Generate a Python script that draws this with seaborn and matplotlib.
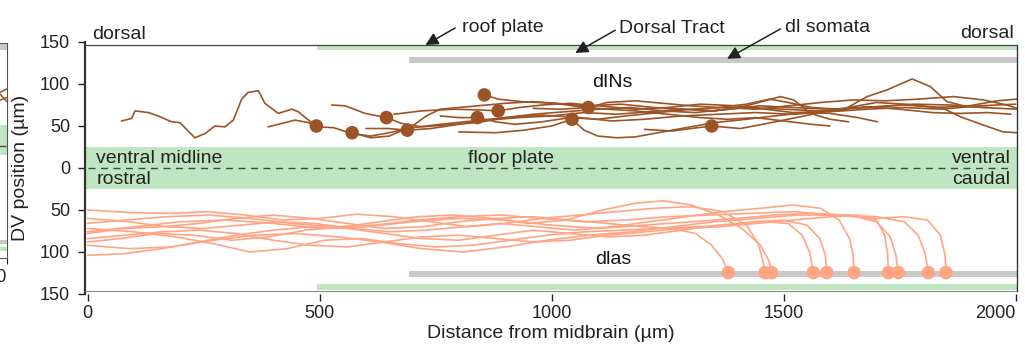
import matplotlib
matplotlib.use("Agg")
import matplotlib.pyplot as plt
import numpy as np
import pandas as pd
import seaborn as sns

# ---------------- data ----------------
x_ticks = [0, 500, 1000, 1500, 2000]
y_ticks = [-150, -100, -50, 0, 50, 100, 150]
y_tick_labels = ["150", "100", "50", "0", "50", "100", "150"]

# landmark bands (x0, x1, y0, y1) in µm
floor_plate = (-5, 2003, -25, 25)
roof_plate_top = (495, 2003, 140, 146)
roof_plate_bottom = (495, 2003, -145, -138)
dl_tract_top = (693, 2003, 125, 132)
dl_tract_bottom = (693, 2003, -130, -123)

# dIN somata
din_soma_x = [493, 570, 644, 689, 840, 855, 885, 1044, 1079, 1345]
din_soma_y = [50, 42, 60, 45, 60, 87, 68, 58, 72, 50]

# dIN axon traces
din1_x = [73, 95, 102, 131, 152, 181, 199, 231, 253, 274, 296, 314, 332, 346, 368, 382, 411, 440, 454, 476, 494]
din1_y = [56, 59, 68, 66, 62, 55, 54, 36, 41, 50, 49, 57, 82, 90, 92, 77, 65, 70, 67, 57, 49]
din2_x = [389, 447, 476, 494, 530, 570, 610, 650, 700, 760, 830, 900, 980, 1060, 1130, 1200, 1280, 1360, 1440, 1520, 1600, 1680, 1760, 1840, 1920, 2000]
din2_y = [49, 57, 54, 49, 48, 41, 38, 42, 48, 52, 56, 60, 63, 60, 56, 58, 62, 64, 66, 64, 67, 70, 72, 70, 74, 76]
din3_x = [570, 610, 650, 700, 730, 760, 820, 900, 960, 1010, 1080, 1150, 1220, 1290, 1350, 1420, 1493, 1522, 1558, 1600, 1640]
din3_y = [42, 36, 38, 50, 62, 70, 73, 77, 79, 77, 74, 76, 72, 70, 68, 74, 85, 81, 65, 58, 55]
din4_x = [526, 555, 598, 644, 677, 720, 792, 863, 930, 1000, 1070, 1140, 1210, 1280, 1350, 1420, 1500, 1570, 1628, 1680, 1723, 1777, 1816, 1852, 1895, 1940]
din4_y = [75, 74, 65, 60, 53, 49, 52, 57, 60, 62, 66, 64, 67, 70, 68, 72, 70, 68, 69, 85, 93, 106, 97, 79, 73, 72]
din5_x = [600, 648, 689, 740, 800, 850, 900, 960, 1030, 1100, 1170, 1240, 1310, 1380, 1450, 1520, 1600, 1680, 1760, 1840, 1881, 1931, 1973, 2003]
din5_y = [47, 47, 45, 47, 52, 55, 60, 64, 67, 70, 72, 68, 66, 70, 74, 72, 70, 72, 75, 72, 61, 51, 43, 42]
din6_x = [760, 800, 840, 880, 920, 980, 1040, 1100, 1160, 1230, 1300, 1370, 1440, 1510, 1580, 1650, 1720, 1790, 1866, 1931, 1981, 2003]
din6_y = [62, 60, 60, 55, 52, 55, 60, 58, 62, 66, 70, 72, 70, 74, 78, 81, 80, 82, 85, 81, 75, 71]
din7_x = [855, 885, 935, 1007, 1060, 1120, 1180, 1250, 1320, 1380, 1440, 1500, 1560, 1600]
din7_y = [87, 82, 79, 77, 73, 70, 68, 64, 60, 58, 60, 56, 52, 50]
din8_x = [660, 720, 790, 850, 885, 930, 980, 1040, 1100, 1180, 1250, 1320, 1400, 1460, 1520, 1580, 1640, 1700, 1760, 1830, 1900, 1960, 2003]
din8_y = [64, 68, 70, 69, 68, 72, 75, 77, 74, 70, 72, 76, 74, 70, 66, 67, 72, 78, 76, 72, 74, 80, 82]
din9_x = [800, 880, 940, 1000, 1044, 1070, 1100, 1140, 1180, 1230, 1290, 1350, 1420, 1480, 1550, 1600, 1660, 1702]
din9_y = [43, 42, 45, 50, 58, 45, 38, 36, 37, 42, 48, 54, 58, 62, 66, 65, 60, 55]
din10_x = [960, 1020, 1079, 1120, 1180, 1240, 1300, 1360, 1420, 1470, 1510, 1560, 1620, 1700, 1780, 1860, 1930, 2003]
din10_y = [71, 70, 72, 78, 80, 77, 74, 72, 76, 82, 78, 72, 70, 73, 76, 75, 72, 70]
din11_x = [1200, 1260, 1300, 1345, 1407, 1464, 1536, 1607, 1680, 1750, 1820, 1880, 1940, 1990]
din11_y = [46, 44, 47, 50, 47, 53, 61, 69, 73, 70, 66, 65, 66, 64]

# dla somata
dla_soma_x = [1381, 1460, 1474, 1564, 1593, 1652, 1726, 1747, 1812, 1850]
dla_soma_y = [-124.5] * 10

# dla axon traces
dla1_x = [0, 80, 160, 240, 320, 400, 480, 560, 640, 720, 800, 880, 960, 1040, 1120, 1200, 1260, 1310, 1345, 1368, 1381]
dla1_y = [-78, -72, -70, -66, -60, -56, -60, -66, -72, -70, -64, -60, -58, -62, -66, -70, -72, -78, -92, -108, -124.5]
dla2_x = [0, 90, 180, 260, 340, 420, 500, 580, 660, 740, 820, 900, 980, 1060, 1140, 1220, 1300, 1370, 1420, 1445, 1455, 1460]
dla2_y = [-50, -53, -54, -52, -56, -62, -60, -55, -58, -64, -70, -66, -60, -56, -52, -48, -46, -52, -68, -90, -110, -124.5]
dla3_x = [0, 70, 150, 230, 310, 390, 470, 550, 630, 710, 790, 870, 950, 1030, 1110, 1180, 1240, 1300, 1360, 1410, 1450, 1468, 1474]
dla3_y = [-88, -84, -78, -80, -86, -82, -74, -70, -64, -58, -56, -60, -66, -62, -50, -42, -39, -44, -56, -72, -92, -110, -124.5]
dla4_x = [0, 100, 190, 270, 350, 430, 510, 590, 670, 750, 830, 910, 990, 1070, 1150, 1230, 1310, 1390, 1460, 1510, 1540, 1556, 1564]
dla4_y = [-72, -76, -82, -90, -100, -96, -86, -84, -90, -94, -92, -86, -80, -76, -74, -72, -70, -68, -64, -66, -80, -100, -124.5]
dla5_x = [0, 80, 160, 240, 320, 400, 480, 560, 640, 720, 800, 880, 960, 1040, 1120, 1200, 1280, 1360, 1440, 1500, 1550, 1578, 1590, 1593]
dla5_y = [-104, -102, -96, -88, -80, -74, -70, -72, -78, -84, -86, -80, -74, -78, -82, -80, -74, -68, -64, -62, -68, -84, -104, -124.5]
dla6_x = [0, 90, 170, 250, 330, 410, 490, 570, 650, 730, 810, 890, 970, 1050, 1130, 1210, 1290, 1370, 1450, 1520, 1580, 1620, 1642, 1650, 1652]
dla6_y = [-60, -64, -70, -72, -68, -64, -66, -72, -76, -74, -70, -66, -70, -74, -70, -64, -58, -52, -48, -44, -48, -62, -84, -104, -124.5]
dla7_x = [0, 80, 160, 240, 320, 400, 480, 560, 640, 720, 800, 880, 960, 1040, 1120, 1200, 1280, 1360, 1440, 1520, 1600, 1660, 1700, 1718, 1724, 1726]
dla7_y = [-84, -80, -76, -74, -78, -86, -92, -94, -88, -82, -80, -84, -88, -86, -80, -76, -72, -70, -66, -62, -58, -56, -62, -80, -102, -124.5]
dla8_x = [0, 100, 200, 300, 400, 500, 600, 700, 800, 900, 1000, 1100, 1200, 1300, 1400, 1480, 1560, 1640, 1700, 1730, 1742, 1747]
dla8_y = [-76, -70, -64, -62, -66, -72, -70, -64, -60, -62, -68, -72, -68, -64, -60, -56, -54, -56, -64, -82, -104, -124.5]
dla9_x = [0, 90, 180, 270, 360, 450, 540, 630, 720, 810, 900, 990, 1080, 1170, 1260, 1350, 1440, 1530, 1620, 1700, 1760, 1790, 1805, 1812]
dla9_y = [-92, -96, -94, -86, -80, -78, -82, -88, -96, -100, -94, -86, -80, -76, -70, -64, -60, -56, -56, -58, -64, -80, -102, -124.5]
dla10_x = [0, 80, 170, 260, 350, 440, 530, 620, 710, 800, 890, 980, 1070, 1160, 1250, 1340, 1430, 1520, 1610, 1700, 1760, 1810, 1838, 1848, 1850]
dla10_y = [-66, -62, -58, -56, -60, -66, -70, -68, -62, -58, -56, -60, -64, -62, -58, -56, -54, -52, -56, -60, -58, -62, -80, -104, -124.5]

# clipped neighbouring panel at the far left
left_trace1_x = [1850, 1920, 2000]
left_trace1_y = [72, 80, 86]
left_trace2_x = [1860, 1930, 2000]
left_trace2_y = [78, 70, 74]
left_trace3_x = [1880, 1940, 2000]
left_trace3_y = [84, 78, 68]

# ---------------- style ----------------
sns.set_style("white")
plt.rcParams["font.family"] = ["Liberation Sans", "DejaVu Sans"]

DIN_COLOR = "#9c5426"
DLA_COLOR = "#ffa584"
GREEN = "#bfe6c1"
GREY = "#c9c9c9"
TXT = "#222222"
FS = 14

def build(prefix, n):
    rows = []
    g = globals()
    for i in range(1, n + 1):
        xs = g[f"{prefix}{i}_x"]
        ys = g[f"{prefix}{i}_y"]
        for k, (a, b) in enumerate(zip(xs, ys)):
            rows.append({"x": a, "y": b, "trace": f"{prefix}{i}", "order": k})
    return pd.DataFrame(rows)

din_df = build("din", 11)
dla_df = build("dla", 10)

fig = plt.figure(figsize=(10.25, 3.44), dpi=100)

# ---- clipped neighbouring panel ----
ax0 = fig.add_axes([-0.2, 0.25, 0.2068, 0.625])
ax0.set_xlim(0, 2000)
ax0.set_ylim(-150, 150)
ax0.fill_between([0, 2000], 140, 150, color=GREY, lw=0)
ax0.fill_between([0, 2000], -6, 36, color=GREEN, lw=0)
ax0.fill_between([0, 2000], -130, -125, color=GREY, lw=0)
ax0.fill_between([0, 2000], -140, -135, color=GREEN, lw=0)
ax0.axhline(6, color="#444444", lw=1, ls=(0, (5, 4)))
for xs, ys in [(left_trace1_x, left_trace1_y), (left_trace2_x, left_trace2_y), (left_trace3_x, left_trace3_y)]:
    sns.lineplot(x=xs, y=ys, ax=ax0, color=DIN_COLOR, lw=1.1, sort=False, estimator=None)
ax0.set_yticks([])
ax0.set_xticks([2000])
ax0.set_xticklabels(["2000"], ha="right", fontsize=13)
ax0.tick_params(axis="x", length=4, direction="out", bottom=True, pad=4)
for s in ["top", "right", "bottom"]:
    ax0.spines[s].set_linewidth(0.8)
    ax0.spines[s].set_color("#555555")
ax0.spines["left"].set_visible(False)

# ---- main panel ----
ax = fig.add_axes([85.3 / 1025, 50 / 344, (1017 - 85.3) / 1025, 252 / 344])
ax.set_xlim(-5, 2003)
ax.set_ylim(-150, 150)

for (x0, x1, y0, y1), col in [(floor_plate, GREEN), (roof_plate_top, GREEN), (roof_plate_bottom, GREEN),
                              (dl_tract_top, GREY), (dl_tract_bottom, GREY)]:
    ax.fill_between([x0, x1], y0, y1, color=col, lw=0, zorder=0)

ax.plot([0, 1995], [0, 0], color="#444444", lw=1, ls=(0, (5, 4)), zorder=1)

sns.lineplot(data=din_df, x="x", y="y", units="trace", estimator=None, sort=False,
             color=DIN_COLOR, lw=1.2, ax=ax, zorder=3)
sns.lineplot(data=dla_df, x="x", y="y", units="trace", estimator=None, sort=False,
             color=DLA_COLOR, lw=1.2, ax=ax, zorder=3)
sns.scatterplot(x=din_soma_x, y=din_soma_y, color=DIN_COLOR, s=95, edgecolor="none", ax=ax, zorder=4)
sns.scatterplot(x=dla_soma_x, y=dla_soma_y, color=DLA_COLOR, s=95, edgecolor="none", ax=ax, zorder=4)

# frame
for s in ["top", "right", "bottom"]:
    ax.spines[s].set_visible(False)
ax.spines["left"].set_linewidth(1.6)
ax.spines["left"].set_color("#333333")
ax.plot([-5, 2003], [147, 147], color="#444444", lw=0.9, clip_on=False, zorder=5)
ax.plot([-5, 2003], [-146, -146], color="#888888", lw=0.8, clip_on=False, zorder=5)
ax.plot([2003, 2003], [-146, 147], color="#333333", lw=1.0, clip_on=False, zorder=5)

ax.set_xticks(x_ticks)
ax.set_yticks(y_ticks)
ax.set_yticklabels(y_tick_labels)
ax.tick_params(axis="both", labelsize=13, length=5, width=1, direction="out", colors="#222222")
ax.tick_params(axis="y", pad=6, left=True)
ax.tick_params(axis="x", pad=3, bottom=True)
ax.get_xticklabels()[-1].set_horizontalalignment("right")
ax.set_xlabel("Distance from midbrain (µm)", fontsize=FS, labelpad=2, color=TXT)
ax.set_ylabel("DV position (µm)", fontsize=FS, labelpad=8, color=TXT)

# texts
ax.text(10, 153.5, "dorsal", fontsize=FS, color=TXT, ha="left", va="baseline", clip_on=False)
ax.text(1997, 154.5, "dorsal", fontsize=FS, color=TXT, ha="right", va="baseline", clip_on=False)
ax.text(19, 6, "ventral midline", fontsize=FS, color=TXT, ha="left", va="baseline")
ax.text(19, -19, "rostral", fontsize=FS, color=TXT, ha="left", va="baseline")
ax.text(913, 6, "floor plate", fontsize=FS, color=TXT, ha="center", va="baseline")
ax.text(1989, 6, "ventral", fontsize=FS, color=TXT, ha="right", va="baseline")
ax.text(1989, -19, "caudal", fontsize=FS, color=TXT, ha="right", va="baseline")
ax.text(1131, 96, "dINs", fontsize=FS, color="#111111", ha="center", va="baseline")
ax.text(1133, -114, "dlas", fontsize=FS, color="#111111", ha="center", va="baseline")

ax.text(807, 162, "roof plate", fontsize=FS, color=TXT, ha="left", va="baseline", clip_on=False)
ax.text(1146, 161, "Dorsal Tract", fontsize=FS, color=TXT, ha="left", va="baseline", clip_on=False)
ax.text(1502, 162, "dl somata", fontsize=FS, color=TXT, ha="left", va="baseline", clip_on=False)

arrow_kw = dict(arrowstyle="-|>", color="#222222", lw=1.1, mutation_scale=19, shrinkA=0, shrinkB=0)
for tail, tip in [((792, 166.7), (728, 146.4)), ((1137, 164), (1051, 137)), ((1493, 165.5), (1378, 130))]:
    ax.annotate("", xy=tip, xytext=tail, arrowprops=arrow_kw, annotation_clip=False, zorder=6)

fig.savefig("out.png", dpi=100)
